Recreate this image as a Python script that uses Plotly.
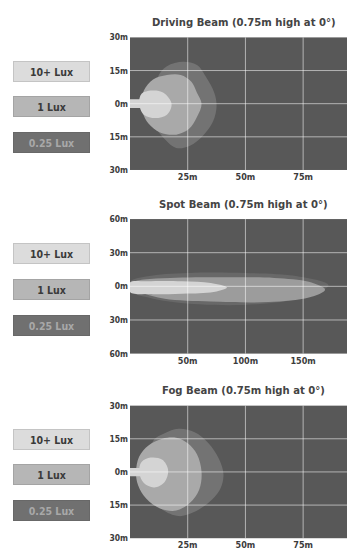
import plotly.graph_objects as go

# ---------------- data (metres) ----------------
PANEL_TITLES = ["Driving Beam (0.75m high at 0\u00b0)",
                "Spot Beam (0.75m high at 0\u00b0)",
                "Fog Beam (0.75m high at 0\u00b0)"]
LEGEND_LABELS = ["10+ Lux", "1 Lux", "0.25 Lux"]

X_TICKS_SHORT = [25, 50, 75]
X_TEXT_SHORT = ["25m", "50m", "75m"]
X_TICKS_LONG = [50, 100, 150]
X_TEXT_LONG = ["50m", "100m", "150m"]
Y_TICKS_SHORT = [-30, -15, 0, 15, 30]
Y_TEXT_SHORT = ["30m", "15m", "0m", "15m", "30m"]
Y_TICKS_LONG = [-60, -30, 0, 30, 60]
Y_TEXT_LONG = ["60m", "30m", "0m", "30m", "60m"]

# Driving beam isolux contours
DRIVING_025_X = [12, 16, 23, 29, 33, 36.5, 37.5, 36, 32, 26, 20, 15, 10, 12]
DRIVING_025_Y = [12, 17, 19, 17.5, 12, 5, -1, -8, -14, -19, -20, -16, -8, 12]
DRIVING_1_X = [5, 6, 10, 16, 22, 26.5, 29, 31, 29, 25.5, 20, 13, 8, 5.5, 5]
DRIVING_1_Y = [0, 6, 11, 13, 13, 10, 5, 0, -6, -11.5, -14, -13, -9, -4, 0]
DRIVING_10_X = [4, 5, 9.5, 14.5, 18, 16, 11, 6, 4]
DRIVING_10_Y = [0, 4.5, 6, 5, 0, -5, -6.5, -5, 0]
DRIVING_NUB_X = [0, 5, 5, 0, 0]
DRIVING_NUB_Y = [2, 2, -2, -2, 2]

# Spot beam isolux contours
SPOT_025_X = [0, 15, 50, 100, 145, 172, 150, 110, 60, 20, 0, 0]
SPOT_025_Y = [4, 9, 12, 12, 9, 1, -10, -16, -16, -11, -4, 4]
SPOT_1_X = [0, 12, 35, 80, 125, 155, 169, 155, 120, 70, 30, 10, 0, 0]
SPOT_1_Y = [2.5, 6, 7.5, 8, 7.5, 4, -3, -10, -14, -13.5, -11, -6, -2.5, 2.5]
SPOT_10_X = [0, 15, 45, 70, 84, 75, 50, 20, 0, 0]
SPOT_10_Y = [3.5, 4.5, 4.5, 3, -1, -4.5, -6.5, -7, -5, 3.5]

# Fog beam isolux contours
FOG_025_X = [10, 15, 21, 28, 34, 38.5, 40.5, 39, 34, 27, 21, 14, 10, 8, 10]
FOG_025_Y = [14, 17.5, 19.5, 18, 13, 6, -1, -8, -14, -18.5, -20, -17, -12, 0, 14]
FOG_1_X = [2.6, 4, 8, 14, 20, 25, 29, 31, 30, 26, 20, 13, 7, 3.5, 2.6]
FOG_1_Y = [0, 7, 12, 15, 15.5, 13, 8, 0, -8, -14, -17.5, -16.5, -12, -6, 0]
FOG_10_X = [4, 5, 9, 14, 16.5, 15, 10.5, 6, 4]
FOG_10_Y = [0, 4.5, 6.5, 5.5, 1, -4.5, -7, -5, 0]
FOG_NUB_X = [0, 5, 5, 0, 0]
FOG_NUB_Y = [1.8, 1.8, -2, -2, 1.8]

# ---------------- style ----------------
W, H = 347, 555
BG = "#585858"
C025 = "#737373"
C1 = "#a9a9a9"
C10 = "#d4d4d4"
FONT = "DejaVu Sans Condensed, Liberation Sans Narrow, sans-serif"
TICK_COLOR = "#3c3c3c"

X_LEFT = 130 / W
PANELS_PX = [(33, 168), (218, 355), (408, 543)]

fig = go.Figure()

beams = [
    [(DRIVING_025_X, DRIVING_025_Y, C025), (DRIVING_1_X, DRIVING_1_Y, C1),
     (DRIVING_10_X, DRIVING_10_Y, C10), (DRIVING_NUB_X, DRIVING_NUB_Y, C10)],
    [(SPOT_025_X, SPOT_025_Y, "#686868"), (SPOT_1_X, SPOT_1_Y, "#9c9c9c"),
     (SPOT_10_X, SPOT_10_Y, C10)],
    [(FOG_025_X, FOG_025_Y, C025), (FOG_1_X, FOG_1_Y, C1),
     (FOG_10_X, FOG_10_Y, C10), (FOG_NUB_X, FOG_NUB_Y, C10)],
]

axis_cfg = [
    (X_TICKS_SHORT, X_TEXT_SHORT, [0, 94], Y_TICKS_SHORT, Y_TEXT_SHORT, [-30, 30]),
    (X_TICKS_LONG, X_TEXT_LONG, [0, 188], Y_TICKS_LONG, Y_TEXT_LONG, [-60, 60]),
    (X_TICKS_SHORT, X_TEXT_SHORT, [0, 94], Y_TICKS_SHORT, Y_TEXT_SHORT, [-30, 30]),
]

for i, shapes in enumerate(beams):
    xa = "x" if i == 0 else f"x{i+1}"
    ya = "y" if i == 0 else f"y{i+1}"
    for xs, ys, col in shapes:
        nub = len(xs) == 5
        fig.add_trace(go.Scatter(
            x=xs, y=ys, xaxis=xa, yaxis=ya, mode="lines",
            line=dict(width=0, shape="linear" if nub else "spline", smoothing=1.0),
            fill="toself", fillcolor=col, hoverinfo="skip", showlegend=False))

layout = dict(
    width=W, height=H, margin=dict(l=0, r=0, t=0, b=0),
    paper_bgcolor="white", plot_bgcolor=BG, showlegend=False,
    font=dict(family=FONT, color=TICK_COLOR, size=9),
)

shapes = []
annotations = []
box_styles = [("#dcdcdc", "#c4c4c4", "#3a3a3a"),
              ("#b6b6b6", "#a4a4a4", "#3a3a3a"),
              ("#707070", "#686868", "#a8a8a8")]
for i, (xt, xtt, xr, yt, ytt, yr) in enumerate(axis_cfg):
    top, bot = PANELS_PX[i]
    sfx = "" if i == 0 else str(i + 1)
    layout["xaxis" + sfx] = dict(
        domain=[X_LEFT, 1], range=xr, tickvals=xt, ticktext=xtt,
        showgrid=False, zeroline=False, showline=False, ticks="",
        tickfont=dict(size=9, family=FONT, color=TICK_COLOR, weight="bold"),
        anchor="y" + sfx, fixedrange=True, ticklabelstandoff=0)
    layout["yaxis" + sfx] = dict(
        domain=[1 - bot / H, 1 - top / H], range=yr, tickvals=yt, ticktext=ytt,
        showgrid=False, zeroline=False, showline=False, ticks="",
        tickfont=dict(size=8.5, family=FONT, color=TICK_COLOR, weight="bold"),
        anchor="x" + sfx, fixedrange=True, ticklabelstandoff=1)
    xref = "x" + sfx
    yref = "y" + sfx
    for v in xt:
        shapes.append(dict(type="line", xref=xref, yref=yref + " domain",
                           x0=v, x1=v, y0=0, y1=1, layer="above",
                           line=dict(color="rgba(255,255,255,0.55)", width=1)))
    for v in yt[1:-1]:
        shapes.append(dict(type="line", xref=xref + " domain", yref=yref,
                           x0=0, x1=1, y0=v, y1=v, layer="above",
                           line=dict(color="rgba(255,255,255,0.55)", width=1)))
    annotations.append(dict(
        text=PANEL_TITLES[i], xref=xref + " domain", yref=yref + " domain",
        x=0.525, y=1, xanchor="center", yanchor="middle", yshift=15, showarrow=False,
        font=dict(size=11.2, family=FONT, color="#444444", weight="bold")))
    for j, lab in enumerate(LEGEND_LABELS):
        bg, bd, tc = box_styles[j]
        annotations.append(dict(
            text=lab, xref="paper", yref=yref + " domain",
            x=51.5 / W, y=[0.745, 0.478, 0.21][j], xanchor="center", yanchor="middle",
            showarrow=False, width=73, height=17, bgcolor=bg, bordercolor=bd,
            borderwidth=1, borderpad=1,
            font=dict(size=10.5, family=FONT, color=tc, weight="bold")))

layout["shapes"] = shapes
layout["annotations"] = annotations
fig.update_layout(**layout)

fig.write_html("out.html", config={"displayModeBar": False},
               post_script="document.body.style.margin='0';document.body.style.overflow='hidden';")
